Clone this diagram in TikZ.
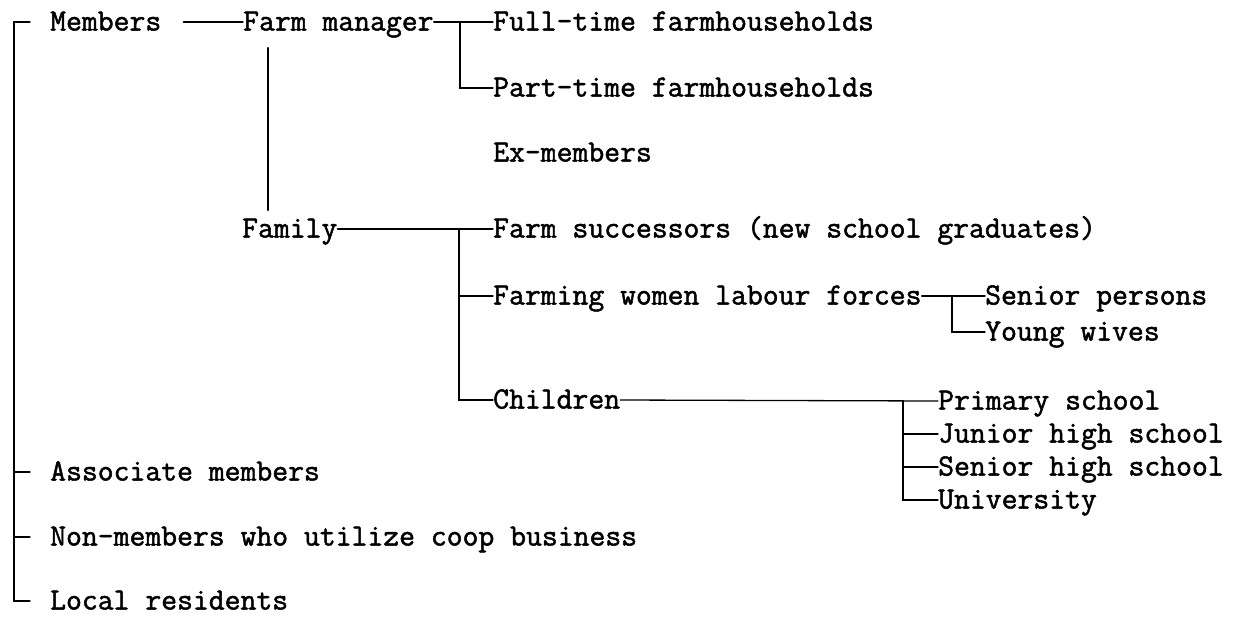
\documentclass[tikz,border=0pt]{standalone}
\usepackage{fontspec}
\newfontfamily\typefont[FakeBold=1.6]{Latin Modern Mono}
\begin{document}
\begin{tikzpicture}[x=1pt,y=-1pt,
  lbl/.style={anchor=west,inner sep=0pt,text height=17pt,text depth=0pt,
    font=\typefont\fontsize{30.8}{33}\selectfont},
  conn/.style={line width=1.3pt,line cap=round}]
\useasboundingbox[fill=white] (0,0) rectangle (1234,619);

% first level
\node[lbl] (mem) at (50,22)  {Members};
\node[lbl] (am)  at (50,472) {Associate members};
\node[lbl] (nm)  at (50,537) {Non-members who utilize coop business};
\node[lbl] (lr)  at (50,601) {Local residents};

% members
\node[lbl] (fm)  at (243,22)  {Farm manager};
\node[lbl] (fam) at (242,229) {Family};

% farm manager
\node[lbl] (ft) at (493,22)  {Full-time farmhouseholds};
\node[lbl] (pt) at (493,88)  {Part-time farmhouseholds};
\node[lbl] (ex) at (493,153) {Ex-members};

% family
\node[lbl] (fs) at (493,229) {Farm successors (new school graduates)};
\node[lbl] (fw) at (493,296) {Farming women labour forces};
\node[lbl] (ch) at (493,400) {Children};

% farming women
\node[lbl] (sp) at (985,296) {Senior persons};
\node[lbl] (yw) at (985,332) {Young wives};

% children
\node[lbl] (ps)  at (938,401) {Primary school};
\node[lbl] (jh)  at (938,434) {Junior high school};
\node[lbl] (sh)  at (938,467) {Senior high school};
\node[lbl] (uni) at (938,500) {University};

% branch columns
\coordinate (lx) at (14,0);
\coordinate (bx1) at (460,0);
\coordinate (bx2) at (459,0);
\coordinate (bx3) at (952,0);
\coordinate (bx4) at (903,0);

% outer bracket
\draw[conn] ([xshift=-20pt]mem.west) -- (mem.west -| lx) |- ([xshift=-20pt]lr.west);
\draw[conn] (am.west -| lx) -- ([xshift=-20pt]am.west);
\draw[conn] (nm.west -| lx) -- ([xshift=-20pt]nm.west);

% members to farm manager, farm manager to family
\draw[conn] ([xshift=22pt]mem.east) -- (fm.west);
\draw[conn] ([xshift=25pt,yshift=-17pt]fm.south west) -- ([xshift=26pt,yshift=10pt]fam.north west);

% farm manager branches
\draw[conn] (fm.east) -- (ft.west);
\draw[conn] (ft.west -| bx1) |- (pt.west);

% family branches
\draw[conn] (fam.east) -- (fs.west);
\draw[conn] (fs.west -| bx2) |- (ch.west);
\draw[conn] (fw.west -| bx2) -- (fw.west);

% farming women branches
\draw[conn] (fw.east) -- (sp.west);
\draw[conn] (sp.west -| bx3) |- (yw.west);

% children branches
\draw[conn] (ch.east) -- (ps.west);
\draw[conn] (ps.west -| bx4) |- (uni.west);
\draw[conn] (jh.west -| bx4) -- (jh.west);
\draw[conn] (sh.west -| bx4) -- (sh.west);
\end{tikzpicture}
\end{document}
